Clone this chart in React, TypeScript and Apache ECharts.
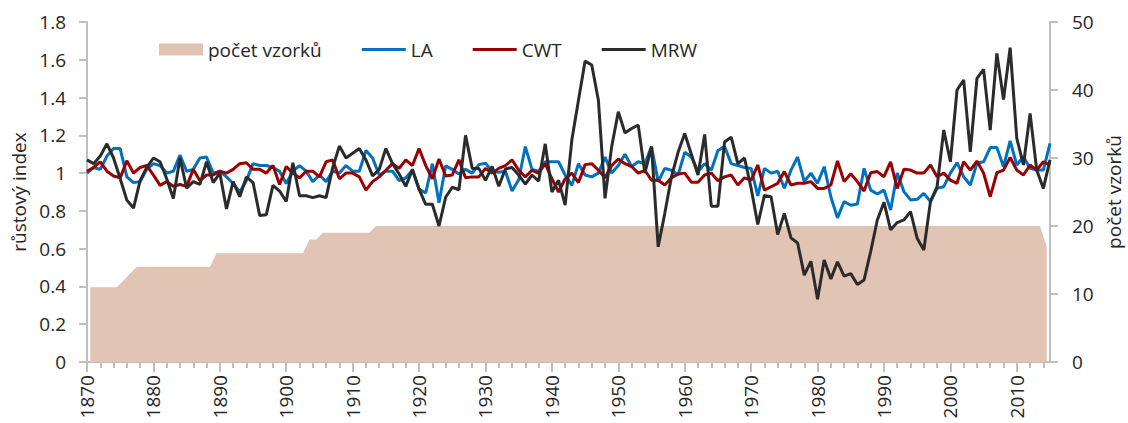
import React, { useEffect, useRef } from "react";
import * as echarts from "echarts";

// Category labels (years)
const years: string[] = [];
for (let y = 1870; y <= 2015; y++) years.push(String(y));
const countYears = years.slice(0, 145); // 1870..2014

// počet vzorků (number of samples), 1870..2014
const sampleCount = [
  11, 11, 11, 11, 11, 12, 13, 14, 14, 14,
  14, 14, 14, 14, 14, 14, 14, 14, 14, 16,
  16, 16, 16, 16, 16, 16, 16, 16, 16, 16,
  16, 16, 16, 18, 18, 19, 19, 19, 19, 19,
  19, 19, 19, 20, 20, 20, 20, 20, 20, 20,
  20, 20, 20, 20, 20, 20, 20, 20, 20, 20,
  20, 20, 20, 20, 20, 20, 20, 20, 20, 20,
  20, 20, 20, 20, 20, 20, 20, 20, 20, 20,
  20, 20, 20, 20, 20, 20, 20, 20, 20, 20,
  20, 20, 20, 20, 20, 20, 20, 20, 20, 20,
  20, 20, 20, 20, 20, 20, 20, 20, 20, 20,
  20, 20, 20, 20, 20, 20, 20, 20, 20, 20,
  20, 20, 20, 20, 20, 20, 20, 20, 20, 20,
  20, 20, 20, 20, 20, 20, 20, 20, 20, 20,
  20, 20, 20, 20, 17,
];

// LA, 1870..2015
const LA = [
  1.0, 1.03, 1.02, 1.09, 1.13, 1.13, 0.98, 0.95, 0.955, 1.02,
  1.05, 1.04, 1.0, 1.01, 1.095, 1.01, 1.02, 1.08, 1.085, 1.0,
  1.01, 0.98, 0.945, 0.9, 0.96, 1.05, 1.04, 1.04, 1.03, 1.01,
  0.945, 1.01, 1.04, 1.01, 0.955, 0.99, 0.955, 1.01, 1.0, 1.04,
  1.01, 1.01, 1.12, 1.08, 0.99, 1.01, 1.01, 0.96, 0.975, 1.015,
  0.915, 0.895, 1.05, 0.843, 1.038, 1.02, 0.995, 1.02, 1.0, 1.045,
  1.052, 1.01, 1.005, 1.01, 0.905, 0.965, 1.14, 1.02, 1.01, 1.06,
  1.06, 1.06, 0.99, 0.935, 1.05, 0.99, 0.98, 1.0, 1.085, 1.0,
  1.04, 1.1, 1.035, 1.06, 1.05, 1.14, 0.955, 1.025, 1.015, 0.99,
  1.11, 1.085, 1.01, 1.05, 1.015, 1.12, 1.14, 1.05, 1.04, 1.03,
  1.025, 0.88, 1.025, 1.0, 1.01, 0.92, 1.016, 1.085, 0.955, 1.0,
  0.946, 1.034, 0.875, 0.763, 0.849, 0.83, 0.836, 1.025, 0.91, 0.889,
  0.91, 0.805, 1.0, 0.902, 0.858, 0.861, 0.893, 0.849, 0.919, 0.928,
  1.0, 1.055, 0.981, 0.937, 1.052, 1.06, 1.135, 1.135, 1.034, 1.17,
  1.043, 1.087, 1.025, 1.016, 1.016, 1.158,
];

// CWT, 1870..2015
const CWT = [
  1.01, 1.03, 1.06, 1.01, 0.985, 0.975, 1.065, 1.0, 1.03, 1.04,
  0.99, 0.935, 0.955, 0.93, 0.94, 0.93, 1.02, 0.96, 0.99, 0.99,
  1.01, 1.0, 1.02, 1.05, 1.055, 1.02, 1.02, 1.0, 1.04, 0.94,
  1.035, 1.0, 0.975, 1.01, 1.01, 0.98, 1.06, 1.07, 0.97, 1.0,
  1.0, 0.98, 0.91, 0.955, 0.98, 1.015, 1.05, 1.025, 1.07, 1.04,
  1.13, 1.04, 0.97, 1.075, 0.985, 0.99, 1.07, 0.975, 0.98, 0.98,
  1.025, 1.0, 1.025, 1.04, 1.07, 1.015, 0.98, 1.015, 1.0, 1.05,
  0.97, 0.9, 0.97, 1.0, 0.95, 1.045, 1.05, 1.015, 0.975, 1.04,
  1.075, 1.05, 1.035, 1.0, 1.015, 0.962, 0.962, 0.937, 0.975, 0.995,
  1.0, 0.952, 0.952, 0.99, 1.0, 0.96, 0.98, 0.99, 0.937, 0.975,
  0.963, 1.043, 0.91, 0.928, 0.946, 1.008, 0.937, 0.946, 0.946, 0.955,
  0.919, 0.919, 0.937, 1.064, 0.955, 0.997, 0.955, 0.905, 1.002, 1.008,
  0.981, 1.06, 0.919, 1.02, 1.016, 1.0, 1.0, 1.043, 0.981, 1.0,
  0.963, 0.946, 1.06, 1.016, 1.064, 1.0, 0.875, 1.002, 1.016, 1.083,
  1.016, 0.99, 1.043, 1.016, 1.06, 1.043,
];

// MRW, 1870..2015
const MRW = [
  1.07, 1.05, 1.09, 1.155, 1.08, 0.97, 0.857, 0.815, 0.96, 1.03,
  1.08, 1.06, 0.97, 0.866, 1.08, 0.92, 0.955, 0.94, 1.06, 0.95,
  1.0, 0.81, 0.955, 0.875, 0.98, 0.95, 0.776, 0.78, 0.935, 0.905,
  0.85, 1.055, 0.88, 0.88, 0.87, 0.88, 0.87, 1.03, 1.143, 1.08,
  1.105, 1.13, 1.07, 0.985, 1.02, 1.13, 1.05, 0.995, 0.93, 1.02,
  0.915, 0.835, 0.835, 0.72, 0.872, 0.925, 0.912, 1.2, 1.025, 1.025,
  0.962, 1.035, 0.93, 1.022, 1.03, 0.99, 0.942, 0.99, 0.958, 1.155,
  0.9, 0.962, 0.83, 1.175, 1.386, 1.593, 1.572, 1.386, 0.866, 1.14,
  1.325, 1.213, 1.236, 1.254, 1.0, 1.14, 0.61, 0.787, 0.98, 1.11,
  1.21, 1.1, 0.99, 1.205, 0.825, 0.825, 1.165, 1.19, 1.05, 1.08,
  0.92, 0.728, 0.882, 0.875, 0.675, 0.787, 0.657, 0.63, 0.46, 0.533,
  0.332, 0.54, 0.44, 0.53, 0.455, 0.468, 0.41, 0.434, 0.585, 0.752,
  0.846, 0.7, 0.738, 0.752, 0.796, 0.655, 0.593, 0.849, 0.928, 1.228,
  1.06, 1.44, 1.493, 1.113, 1.502, 1.549, 1.228, 1.634, 1.39, 1.664,
  1.184, 1.043, 1.316, 1.016, 0.919, 1.07,
];

const FONT = "'Open Sans', 'Noto Sans', sans-serif";
const FS = 19;
const TXT = "#262626";
const AXIS = "#BFBFBF";
const LINE_ICON = "path://M0,0 L44,0 L44,3 L0,3 Z";

export default function App() {
  const ref = useRef<HTMLDivElement>(null);
  useEffect(() => {
    const chart = echarts.init(ref.current!, null, { renderer: "svg" });
    chart.setOption({
      animation: false,
      textStyle: { fontFamily: FONT, color: TXT },
      grid: {
        left: 87,
        right: 78,
        top: 22,
        bottom: 61,
        containLabel: false,
        outerBoundsMode: "none",
      },
      legend: {
        left: 154,
        top: 35,
        itemWidth: 44,
        itemHeight: 12,
        itemGap: 40,
        symbolKeepAspect: true,
        textStyle: { fontFamily: FONT, fontSize: FS, color: TXT },
        data: [
          { name: "počet vzorků", icon: "rect" },
          { name: "LA", icon: LINE_ICON },
          { name: "CWT", icon: LINE_ICON },
          { name: "MRW", icon: LINE_ICON },
        ],
      },
      xAxis: [
        {
          type: "category",
          data: years,
          boundaryGap: false,
          axisLine: { lineStyle: { color: AXIS, width: 2 } },
          axisTick: { interval: 1, length: 6, lineStyle: { color: AXIS, width: 2 } },
          axisLabel: {
            interval: 9,
            rotate: 90,
            margin: 13,
            fontSize: FS,
            color: TXT,
            fontFamily: FONT,
          },
          splitLine: { show: false },
        },
        {
          type: "category",
          data: countYears,
          boundaryGap: true,
          show: false,
        },
        {
          type: "category",
          data: years,
          boundaryGap: false,
          position: "bottom",
          axisLine: { show: false },
          axisLabel: { show: false },
          axisTick: { interval: 9, length: 10, lineStyle: { color: AXIS, width: 2 } },
          splitLine: { show: false },
        },
      ],
      yAxis: [
        {
          type: "value",
          min: 0,
          max: 1.8,
          interval: 0.2,
          name: "růstový index",
          nameLocation: "middle",
          nameGap: 58,
          nameTextStyle: { fontSize: FS, color: TXT, fontFamily: FONT },
          axisLine: { show: true, lineStyle: { color: AXIS, width: 2 } },
          axisTick: { show: true, length: 8, lineStyle: { color: AXIS, width: 2 } },
          axisLabel: { fontSize: FS, color: TXT, margin: 21, fontFamily: FONT },
          splitLine: { show: false },
        },
        {
          type: "value",
          min: 0,
          max: 50,
          interval: 10,
          position: "right",
          name: "počet vzorků",
          nameLocation: "middle",
          nameGap: 52,
          nameRotate: 90,
          nameTextStyle: { fontSize: FS, color: TXT, fontFamily: FONT },
          axisLine: { show: true, lineStyle: { color: AXIS, width: 2 } },
          axisTick: { show: true, length: 8, lineStyle: { color: AXIS, width: 2 } },
          axisLabel: { fontSize: FS, color: TXT, margin: 22, fontFamily: FONT },
          splitLine: { show: false },
        },
      ],
      series: [
        {
          name: "počet vzorků",
          type: "line",
          xAxisIndex: 1,
          yAxisIndex: 1,
          data: sampleCount,
          symbol: "none",
          color: "#E1C4B4",
          lineStyle: { width: 0, color: "#E1C4B4" },
          areaStyle: { color: "#E1C4B4", opacity: 1 },
          itemStyle: { color: "#E1C4B4" },
          z: 1,
        },
        {
          name: "LA",
          type: "line",
          data: LA,
          symbol: "none",
          color: "#0070C0",
          itemStyle: { color: "#0070C0" },
          lineStyle: { width: 3, color: "#0070C0" },
          z: 2,
        },
        {
          name: "CWT",
          type: "line",
          data: CWT,
          symbol: "none",
          color: "#9A0000",
          itemStyle: { color: "#9A0000" },
          lineStyle: { width: 3, color: "#9A0000" },
          z: 3,
        },
        {
          name: "MRW",
          type: "line",
          data: MRW,
          symbol: "none",
          color: "#2B2B2B",
          itemStyle: { color: "#2B2B2B" },
          lineStyle: { width: 3, color: "#2B2B2B" },
          z: 4,
        },
      ],
    });
    return () => chart.dispose();
  }, []);
  return (
    <div
      ref={ref}
      style={{ position: "absolute", left: 0, top: 0, width: 1128, height: 423 }}
    />
  );
}
